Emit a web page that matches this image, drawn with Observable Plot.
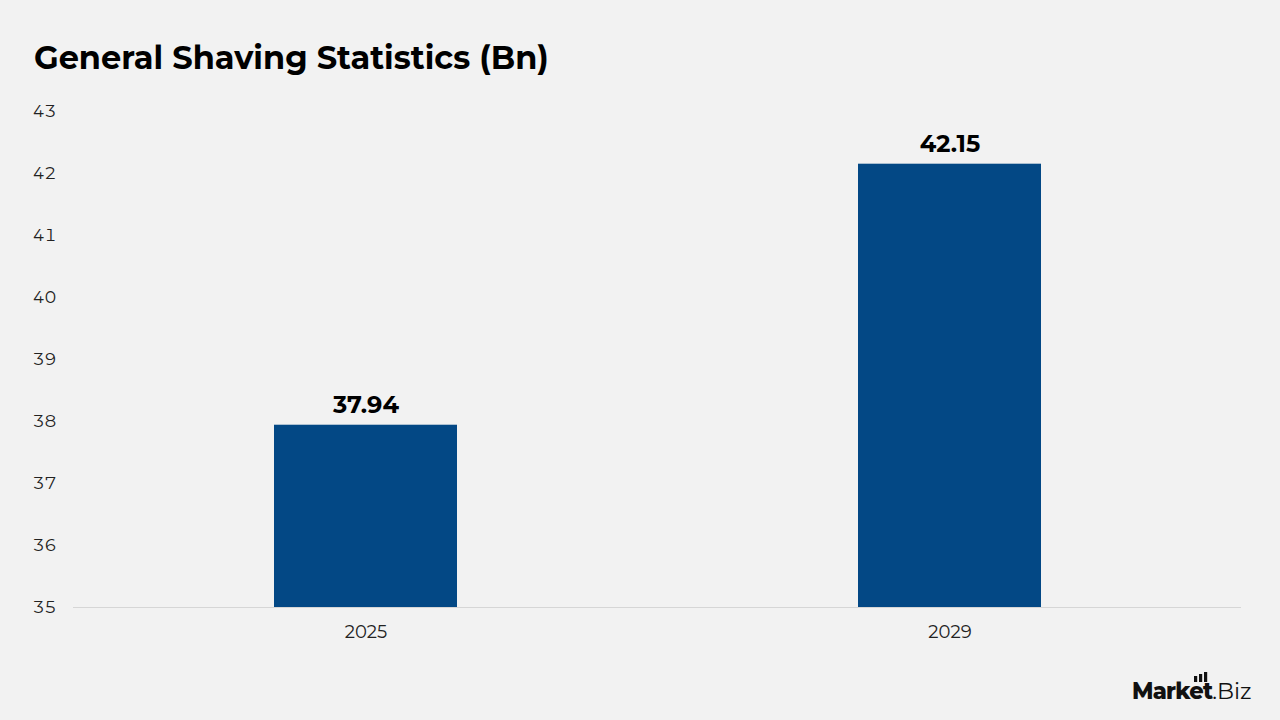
<!DOCTYPE html>
<html>
<head>
<meta charset="utf-8">
<script src="https://cdn.jsdelivr.net/npm/d3@7"></script>
<script src="https://cdn.jsdelivr.net/npm/@observablehq/plot@0.6"></script>
<style>
  html, body { margin: 0; padding: 0; background: #f2f2f2; }
  #page { position: relative; width: 1280px; height: 720px; background: #f2f2f2; font-family: "Montserrat", "Open Sans", "Lato", sans-serif; overflow: hidden; }
  #title { position: absolute; left: 34px; top: 38px; font-size: 32px; font-weight: 700; color: #000; }
  #chart { position: absolute; left: 0; top: 90px; }
  #logo { position: absolute; left: 1120px; top: 660px; }
</style>
</head>
<body>
<div id="page">
  <div id="title">General Shaving Statistics (Bn)</div>
  <div id="chart"></div>
  <svg id="logo" width="160" height="50" font-family="Montserrat, 'Open Sans', sans-serif" font-size="22.5" fill="#111">
    <rect x="74" y="16" width="3.2" height="6"></rect>
    <rect x="79" y="14" width="3.2" height="8"></rect>
    <rect x="84" y="12" width="3.2" height="10"></rect>
    <text x="12" y="39"><tspan font-weight="800" textLength="81" lengthAdjust="spacing">Market</tspan><tspan font-weight="400">.Biz</tspan></text>
  </svg>
</div>
<script>
// Market size by year, in billions
const years = ["2025", "2029"];
const values = [37.94, 42.15];
const yTicks = [35, 36, 37, 38, 39, 40, 41, 42, 43];

const rows = years.map((year, i) => ({year, value: values[i]}));

const chart = Plot.plot({
  width: 1280,
  height: 560,
  marginLeft: 73,
  marginRight: 39,
  marginTop: 21,
  marginBottom: 43,
  style: {background: "transparent", fontFamily: "Montserrat, 'Open Sans', Lato, sans-serif", fontSize: "17px", color: "#222"},
  x: {domain: years, paddingInner: 0.687, paddingOuter: 0.3435, label: null},
  y: {domain: [35, 43], ticks: yTicks, label: null, tickSize: 0, tickPadding: 17},
  marks: [
    Plot.barY(rows, {x: "year", y1: 35, y2: "value", fill: "#034885"}),
    Plot.ruleY([35], {stroke: "#d6d6d6", strokeWidth: 1}),
    Plot.text(rows, {x: "year", y: "value", text: d => d.value.toFixed(2), dy: -20, fontSize: 24, fontWeight: 700, fill: "#000"}),
    Plot.axisX({tickSize: 0, tickPadding: 18, fontSize: 18, label: null})
  ]
});
document.getElementById("chart").appendChild(chart);
</script>
</body>
</html>
